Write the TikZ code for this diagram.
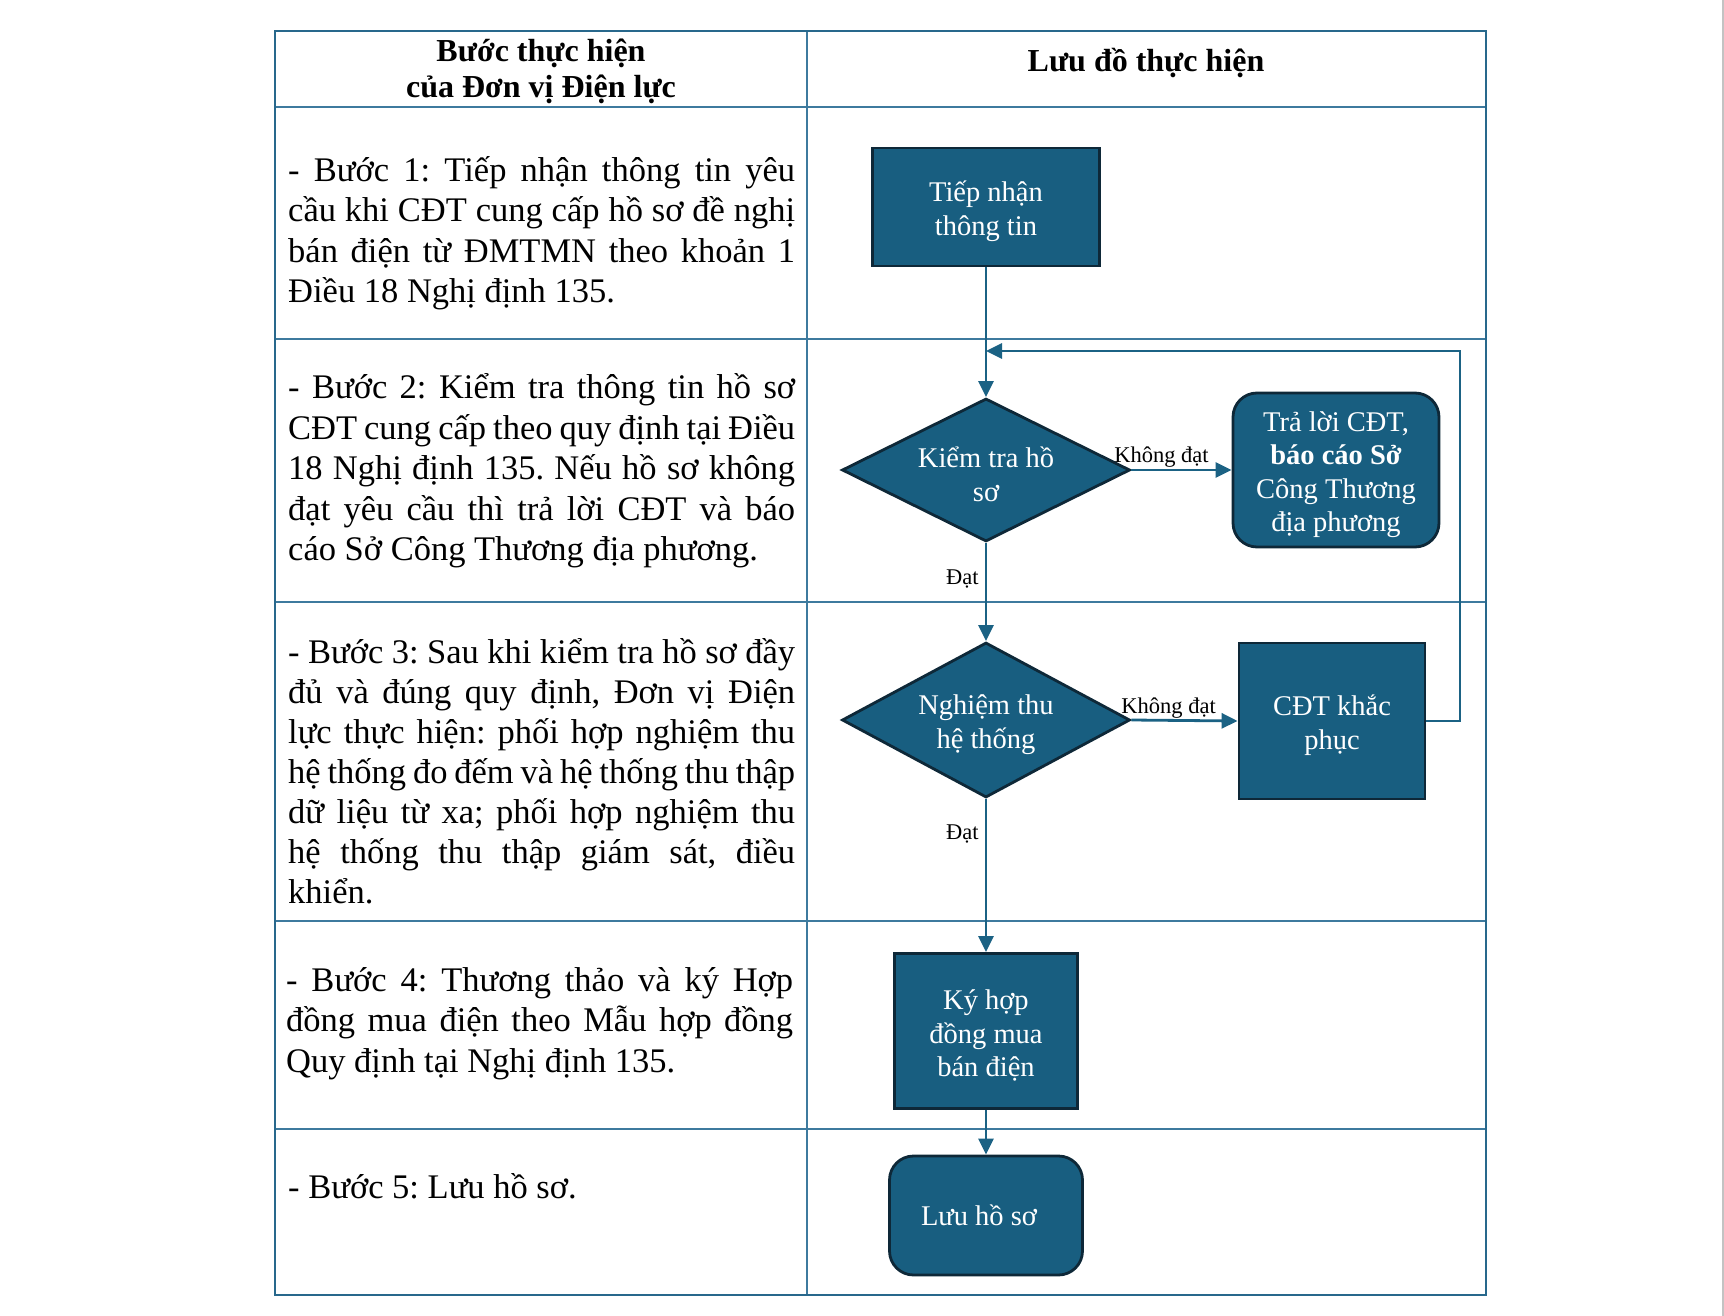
\documentclass[tikz,border=0pt]{standalone}
\usepackage{fontspec}
\setmainfont{Liberation Serif}
\usetikzlibrary{shapes.geometric,arrows.meta}
\definecolor{fillc}{RGB}{24,94,128}
\definecolor{edgec}{RGB}{14,40,56}
\definecolor{arrc}{RGB}{27,98,132}
\definecolor{tabc}{RGB}{62,122,158}
\definecolor{tabo}{RGB}{40,104,140}
\definecolor{pagec}{RGB}{195,195,195}
\frenchspacing
\newcommand\bodyf{\fontsize{34.5pt}{40pt}\selectfont}
\newcommand\headf{\fontsize{32pt}{36pt}\selectfont\bfseries}
\newcommand\boxf{\fontsize{28.5pt}{33.5pt}\selectfont}
\newcommand\labf{\fontsize{22.5pt}{26pt}\selectfont}
\newcommand\jl[1]{\hbox to 507pt{\spaceskip=.25em plus .6em minus .12em\relax #1}}
\newcommand\tstrut{\rule{0pt}{29pt}}
\begin{document}
\begin{tikzpicture}[x=1pt,y=-1pt,
  body/.style={font=\bodyf, inner sep=0pt, anchor=base west},
  head/.style={font=\headf, inner sep=0pt, anchor=base},
  shapebase/.style={draw=edgec, fill=fillc, line width=2.8pt, text=white, font=\boxf, align=center, inner sep=0pt},
  procbox/.style={shapebase, rectangle},
  termbox/.style={shapebase, rectangle, rounded corners=24pt},
  decision/.style={shapebase, diamond, aspect=1.9, minimum width=288pt, minimum height=150pt},
  arr/.style={draw=arrc, line width=2.8pt, -{Triangle[length=16pt,width=15pt]}},
  lab/.style={font=\labf, text=black, inner sep=0pt},
  tline/.style={draw=tabc, line width=1.6pt},
  tframe/.style={draw=tabo, line width=2.2pt}]
\fill[white] (0,0) rectangle (1724,1316);
\useasboundingbox (0,0) rectangle (1724,1316);
\draw[pagec, line width=2pt] (1723,0) -- (1723,1316);

% table
\draw[tline] (807,31) -- (807,1295);
\foreach \yy in {107,339,602,921,1129} \draw[tline] (275,\yy) -- (1486,\yy);
\draw[tframe] (275,31) rectangle (1486,1295);

% headers
\node[head] (h1) at (541,62) {Bước thực hiện};
\node[head] (h2) at (541,98) {của Đơn vị Điện lực};
\node[head] (h3) at (1146,72) {Lưu đồ thực hiện};

% step 1
\node[body] (s1a) at (288,182) {\jl{- Bước 1: Tiếp nhận thông tin yêu}};
\node[body] (s1b) at (288,222) {\jl{cầu khi CĐT cung cấp hồ sơ đề nghị}};
\node[body] (s1c) at (288,262) {\jl{bán điện từ ĐMTMN theo khoản 1}};
\node[body] (s1d) at (288,302) {Điều 18 Nghị định 135.};
% step 2
\node[body] (s2a) at (288,398.5) {\jl{- Bước 2: Kiểm tra thông tin hồ sơ}};
\node[body] (s2b) at (288,439) {\jl{CĐT cung cấp theo quy định tại Điều}};
\node[body] (s2c) at (288,479.5) {\jl{18 Nghị định 135. Nếu hồ sơ không}};
\node[body] (s2d) at (288,520) {\jl{đạt yêu cầu thì trả lời CĐT và báo}};
\node[body] (s2e) at (288,560) {cáo Sở Công Thương địa phương.};
% step 3
\node[body] (s3a) at (288,663) {\jl{- Bước 3: Sau khi kiểm tra hồ sơ đầy}};
\node[body] (s3b) at (288,703) {\jl{đủ và đúng quy định, Đơn vị Điện}};
\node[body] (s3c) at (288,743) {\jl{lực thực hiện: phối hợp nghiệm thu}};
\node[body] (s3d) at (288,783) {\jl{hệ thống đo đếm và hệ thống thu thập}};
\node[body] (s3e) at (288,823) {\jl{dữ liệu từ xa; phối hợp nghiệm thu}};
\node[body] (s3f) at (288,863) {\jl{hệ thống thu thập giám sát, điều}};
\node[body] (s3g) at (288,903) {khiển.};
% step 4
\node[body] (s4a) at (286,991) {\jl{- Bước 4: Thương thảo và ký Hợp}};
\node[body] (s4b) at (286,1031.5) {\jl{đồng mua điện theo Mẫu hợp đồng}};
\node[body] (s4c) at (286,1072) {Quy định tại Nghị định 135.};
% step 5
\node[body] (s5a) at (288,1198) {- Bước 5: Lưu hồ sơ.};

% flowchart
\node[procbox, minimum width=227pt, minimum height=118pt] (n1) at (986,207) {\tstrut Tiếp nhận\\thông tin};
\node[decision, minimum height=143pt] (d1) at (986,470) {\tstrut Kiểm tra hồ\\sơ};
\node[termbox, minimum width=206pt, minimum height=154pt] (r1) at (1336,470) {\tstrut Trả lời CĐT,\\\textbf{báo cáo Sở}\\Công Thương\\địa phương};
\node[decision, minimum height=155pt] (d2) at (986,720) {\tstrut Nghiệm thu\\hệ thống};
\node[procbox, minimum width=186pt, minimum height=156pt] (r2) at (1332,721) {\tstrut CĐT khắc\\phục};
\node[procbox, minimum width=183pt, minimum height=155pt] (n4) at (986,1031) {\tstrut Ký hợp\\đồng mua\\bán điện};
\node[termbox, minimum width=193pt, minimum height=119pt] (n5) at (986,1215.5) {Lưu hồ sơ\hspace*{14pt}};

\coordinate (loopc) at (1460,351);
\draw[arr] (n1.south) -- (d1.north);
\draw[arr] (d1.east) -- node[lab, pos=.3, above=1pt] (k1) {Không đạt} (r1.west);
\draw[arr] (d1.south) -- node[lab, pos=.37, left=6pt] (o1) {Đạt} (d2.north);
\draw[arr] (d2.east) -- node[lab, pos=.35, above=1pt] (k2) {Không đạt} (r2.west);
\draw[arr] (d2.south) -- node[lab, pos=.23, left=6pt] (o2) {Đạt} (n4.north);
\draw[arr] (n4.south) -- (n5.north);
\draw[arr] (r2.east) -- (r2.east -| loopc) -- (loopc) -- (loopc -| n1.south);
\end{tikzpicture}
\end{document}
